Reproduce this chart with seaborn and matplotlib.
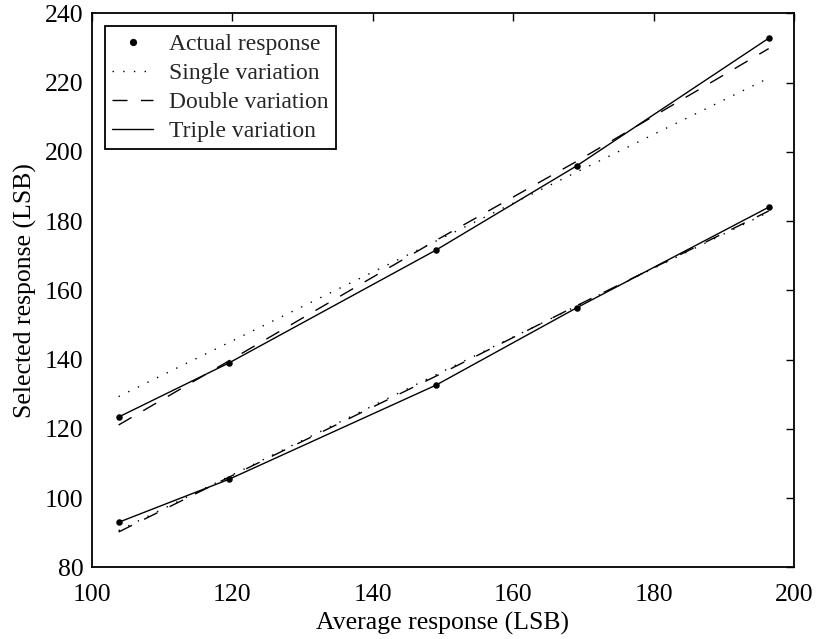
import matplotlib
matplotlib.use("Agg")
import matplotlib.pyplot as plt
from matplotlib.lines import Line2D
import seaborn as sns
import pandas as pd

# Average response at each test level (LSB)
avg_response = [103.8, 119.5, 149.0, 169.1, 196.4]

# Measured selected response for the two channels
actual_upper = [123.4, 139.0, 171.6, 196.0, 232.8]
actual_lower = [93.0, 105.4, 132.6, 155.0, 184.0]

# Model curves evaluated at the same levels
single_upper = [129.3, 144.9, 174.2, 194.2, 221.3]
double_upper = [121.1, 139.6, 174.4, 197.3, 229.8]
triple_upper = [123.4, 139.0, 171.6, 196.0, 232.8]

single_lower = [90.6, 106.2, 135.6, 155.5, 182.6]
double_lower = [90.2, 106.0, 135.2, 155.6, 182.9]
triple_lower = [93.0, 105.4, 132.6, 155.0, 184.0]

legend_labels = ["Actual response", "Single variation",
                 "Double variation", "Triple variation"]

sns.set_theme(style="white")
plt.rcParams["font.family"] = ["Liberation Serif", "DejaVu Serif"]
plt.rcParams["lines.scale_dashes"] = False

fig = plt.figure(figsize=(8.17, 6.39), dpi=100)
ax = fig.add_axes([0.1125, 0.1122, 0.8593, 0.867])

styles = {
    "single": dict(linestyle=(0, (1.0, 6.7)), linewidth=1.0),
    "double": dict(linestyle=(0, (10.8, 9.7)), linewidth=1.0),
    "triple": dict(linestyle="-", linewidth=1.0),
}

for single, double, triple in [(single_upper, double_upper, triple_upper),
                               (single_lower, double_lower, triple_lower)]:
    df = pd.DataFrame({"x": avg_response, "single": single,
                       "double": double, "triple": triple})
    for key in ["single", "double", "triple"]:
        sns.lineplot(data=df, x="x", y=key, ax=ax, color="black",
                     estimator=None, sort=True, **styles[key])

for actual in [actual_upper, actual_lower]:
    pts = pd.DataFrame({"x": avg_response, "y": actual})
    sns.scatterplot(data=pts, x="x", y="y", ax=ax, color="black",
                    s=22, edgecolor="black", linewidth=0, zorder=5)

ax.set_xlim(100, 200)
ax.set_ylim(80, 240)
ax.set_xticks([100, 120, 140, 160, 180, 200])
ax.set_yticks([80, 100, 120, 140, 160, 180, 200, 220, 240])
ax.tick_params(direction="in", length=5.5, width=1.0, top=True, right=True,
               labelsize=18.5, colors="black")
ax.tick_params(axis="x", pad=12)
ax.tick_params(axis="y", pad=6)
for sp in ax.spines.values():
    sp.set_color("black")
    sp.set_linewidth(1.3)
ax.set_xlabel("Average response (LSB)", fontsize=18.5, color="black", labelpad=4)
ax.set_ylabel("Selected response (LSB)", fontsize=18.5, color="black", labelpad=6)

handles = [
    Line2D([], [], color="black", linestyle="none", marker="o", markersize=4.2),
    Line2D([], [], color="black", **styles["single"]),
    Line2D([], [], color="black", **styles["double"]),
    Line2D([], [], color="black", **styles["triple"]),
]
leg = ax.legend(handles, legend_labels, loc="upper left", fontsize=17,
                frameon=True, fancybox=False, framealpha=1, edgecolor="black",
                borderpad=0.32, labelspacing=0.31, handlelength=1.7,
                handletextpad=0.68, borderaxespad=0.55)
leg.get_frame().set_linewidth(1.3)

fig.savefig("out.png", dpi=100)
